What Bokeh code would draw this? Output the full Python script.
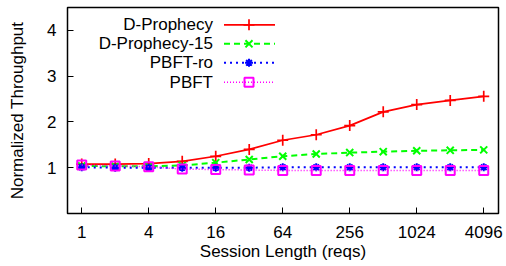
import math
from bokeh.plotting import figure
from bokeh.models import FixedTicker, Range1d, Label
from bokeh.embed import file_html
from bokeh.resources import INLINE

# ---- data ----
session_len = [1, 2, 4, 8, 16, 32, 64, 128, 256, 512, 1024, 2048, 4096]
d_prophecy = [1.08, 1.08, 1.09, 1.14, 1.25, 1.40, 1.60, 1.72, 1.92, 2.22, 2.38, 2.47, 2.56]
d_prophecy_15 = [1.04, 1.03, 1.03, 1.05, 1.11, 1.18, 1.25, 1.30, 1.33, 1.35, 1.37, 1.38, 1.39]
pbft_ro = [1.01, 1.00, 1.00, 1.00, 1.00, 1.00, 1.01, 1.01, 1.01, 1.01, 1.01, 1.01, 1.01]
pbft = [1.06, 1.04, 1.02, 0.97, 0.96, 0.95, 0.94, 0.94, 0.94, 0.94, 0.94, 0.94, 0.94]

x_ticks = [1, 4, 16, 64, 256, 1024, 4096]
x_tick_labels = ["1", "4", "16", "64", "256", "1024", "4096"]
y_ticks = [1, 2, 3, 4]
y_tick_labels = ["1", "2", "3", "4"]

series_names = ["D-Prophecy", "D-Prophecy-15", "PBFT-ro", "PBFT"]

# ---- layout / style ----
FONT = "Liberation Sans"
FS = "17px"
X0, X1 = 0.745, 5560.0
Y0, Y1 = 0.0, 4.5
W, H = 506, 266
BL, BR, BT, BB = 67, 8, 7, 53
FW = W - BL - BR
FH = H - BT - BB

p = figure(width=W, height=H, x_axis_type="log", output_backend="svg",
           toolbar_location=None, x_range=Range1d(X0, X1), y_range=Range1d(Y0, Y1),
           min_border_left=BL, min_border_right=BR, min_border_top=BT,
           min_border_bottom=BB)
p.background_fill_color = "white"
p.border_fill_color = "white"
p.outline_line_color = "black"
p.outline_line_width = 1.5
p.grid.visible = False

for ax in (p.xaxis[0], p.yaxis[0]):
    ax.axis_line_color = None
    ax.major_tick_in = 6
    ax.major_tick_out = 0
    ax.minor_tick_in = 0
    ax.minor_tick_out = 0
    ax.major_tick_line_color = "black"
    ax.major_tick_line_width = 1
    ax.major_label_text_font = FONT
    ax.major_label_text_font_size = FS
    ax.major_label_text_color = "black"
    ax.axis_label_text_font = FONT
    ax.axis_label_text_font_size = FS
    ax.axis_label_text_font_style = "normal"
    ax.axis_label_text_color = "black"

p.xaxis.ticker = FixedTicker(ticks=x_ticks)
p.xaxis.major_label_overrides = {t: l for t, l in zip(x_ticks, x_tick_labels)}
p.xaxis.axis_label = "Session Length (reqs)"
p.xaxis.major_label_standoff = 12
p.xaxis.axis_label_standoff = 1

p.yaxis.ticker = FixedTicker(ticks=y_ticks)
p.yaxis.major_label_overrides = {t: l for t, l in zip(y_ticks, y_tick_labels)}
p.yaxis.axis_label = "Normalized Throughput"
p.yaxis.major_label_standoff = 11
p.yaxis.axis_label_standoff = 17

styles = [
    dict(color="#ff0000", dash="solid", width=1.7, marker="cross", size=11, lw=1.7),
    dict(color="#00ff00", dash="6 4", width=2, marker="x", size=10, lw=2),
    dict(color="#0000ff", dash="2 4", width=2, marker="asterisk", size=8, lw=2),
    dict(color="#ff00ff", dash="1 2", width=1.5, marker="square", size=9, lw=2),
]
series = [d_prophecy, d_prophecy_15, pbft_ro, pbft]

for vals, st in zip(series, styles):
    p.line(session_len, vals, line_color=st["color"], line_width=st["width"],
           line_dash=st["dash"])
    p.scatter(session_len, vals, marker=st["marker"], size=st["size"],
              line_color=st["color"], line_width=st["lw"], fill_color=None)

# legend (positions from frame pixel offsets)
def fx(px):
    l0, l1 = math.log10(X0), math.log10(X1)
    return 10 ** (l0 + px / FW * (l1 - l0))

def fy(py):
    return Y1 - py / FH * (Y1 - Y0)

leg_text_x = 145.5
leg_line_x0, leg_line_x1, leg_mark_x = 156.5, 207.5, 181.5
leg_rows = [17.3, 36.3, 55.3, 74.7]

for name, st, ry in zip(series_names, styles, leg_rows):
    yy = fy(ry)
    p.add_layout(Label(x=fx(leg_text_x), y=yy, text=name, text_align="right",
                       text_baseline="middle", text_font=FONT,
                       text_font_size=FS, text_color="black"))
    p.line([fx(leg_line_x0), fx(leg_line_x1)], [yy, yy], line_color=st["color"],
           line_width=st["width"], line_dash=st["dash"])
    p.scatter([fx(leg_mark_x)], [yy], marker=st["marker"], size=st["size"],
              line_color=st["color"], line_width=st["lw"], fill_color=None)

open("out.html", "w").write(file_html(p, INLINE))
